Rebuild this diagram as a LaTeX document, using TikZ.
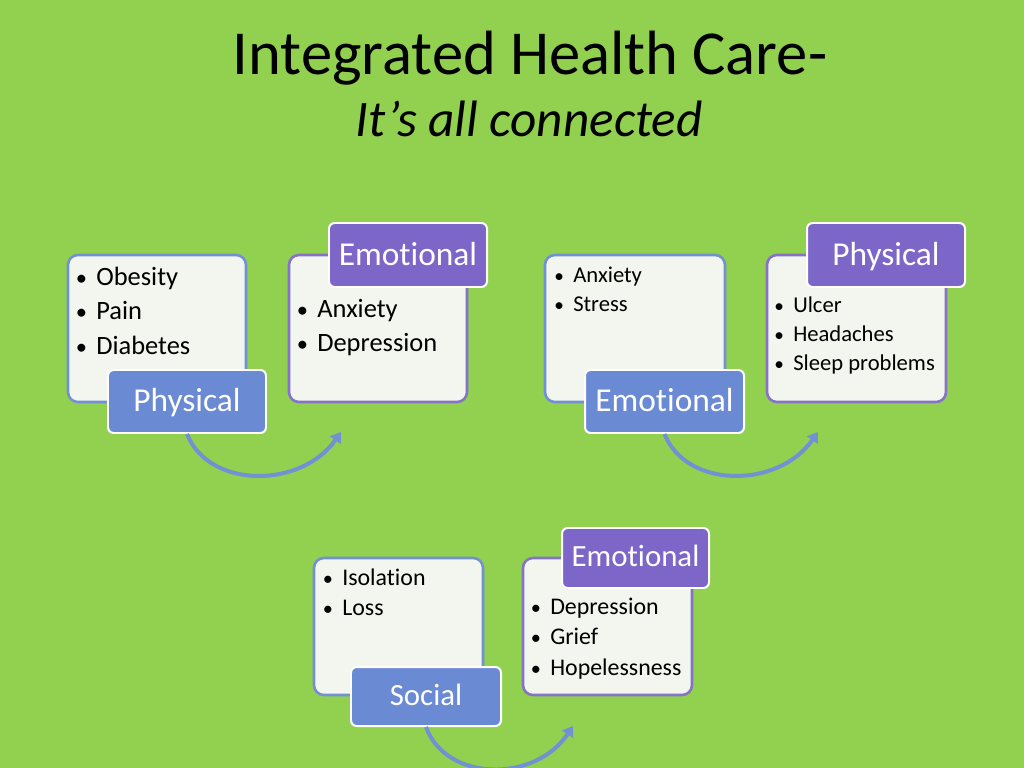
\documentclass[tikz,border=0pt]{standalone}
\usepackage{fontspec}
\setmainfont{Carlito}[Ligatures=NoCommon]
\usetikzlibrary{arrows.meta}
\definecolor{bggreen}{HTML}{92D050}
\definecolor{boxfill}{HTML}{F2F6EE}
\definecolor{lblblue}{HTML}{6A8AD4}
\definecolor{lblpurple}{HTML}{7C67C8}
\definecolor{edgeblue}{HTML}{7191D3}
\definecolor{edgepurple}{HTML}{8673C5}
\newcommand{\px}{0.703125bp}
\newcommand{\bul}{\llap{\scalebox{0.85}{•}\hspace{6.5bp}}}
\tikzset{>={Triangle[width=9bp,length=7bp]},
  panel/.style={draw, line width=1.8bp, fill=boxfill, rounded corners=7bp, inner sep=0},
  lbl/.style={draw=white, line width=1.4bp, rounded corners=4bp, text=white, inner sep=0},
  biglbl/.style={lbl, font=\fontsize{23.5bp}{28bp}\selectfont, text height=17bp, text depth=2.5bp},
  smalllbl/.style={lbl, font=\fontsize{21.7bp}{26bp}\selectfont, text height=15bp, text depth=3bp},
  item/.style={anchor=base west, inner sep=0},
  flow/.style={->, line width=2.8bp, edgeblue}}

\begin{document}
\begin{tikzpicture}[x=\px, y=-\px]
  \useasboundingbox (0,0) rectangle (1024,768);
  \fill[bggreen] (0,0) rectangle (1024,768);
  % title
  \node[anchor=base, font=\fontsize{44bp}{53bp}\selectfont] (title) at (530,75) {Integrated Health Care-};
  \node[anchor=base, font=\fontsize{36bp}{43bp}\selectfont\itshape] (subtitle) at (529,136) {It’s all connected};
  % 1
  \node[panel, draw=edgeblue, minimum width=178*\px, minimum height=147*\px] (physbox) at (157,328.5) {};
  \foreach \t [count=\i] in {Obesity,Pain,Diabetes}
    \node[item, font=\fontsize{18.6bp}{22bp}\selectfont] (physitem\i) at (96,250.5+34.5*\i) {\bul\t};
  \node[panel, draw=edgepurple, minimum width=178*\px, minimum height=147*\px] (emobox) at (378,328.5) {};
  \foreach \t [count=\i] in {Anxiety,Depression}
    \node[item, font=\fontsize{18.6bp}{22bp}\selectfont] (emoitem\i) at (317,282.5+34.5*\i) {\bul\t};
  \node[biglbl, fill=lblblue, minimum width=158*\px, minimum height=63*\px] (physlbl) at (187,401.5) {Physical};
  \node[biglbl, fill=lblpurple, minimum width=158*\px, minimum height=64*\px] (emolbl) at (408,255) {Emotional};
  \coordinate (end1) at (341,432);
  \draw[flow] (physlbl.south) .. controls +(22,55) and +(-40,57) .. (end1);
  % 2
  \node[panel, draw=edgeblue, minimum width=180*\px, minimum height=147*\px] (stressbox) at (635,328.5) {};
  \foreach \t [count=\i] in {Anxiety,Stress}
    \node[item, font=\fontsize{15.9bp}{19bp}\selectfont] (stressitem\i) at (573,254+28.5*\i) {\bul\t};
  \node[panel, draw=edgepurple, minimum width=179*\px, minimum height=147*\px] (bodybox) at (856.5,328.5) {};
  \foreach \t [count=\i] in {Ulcer,Headaches,Sleep problems}
    \node[item, font=\fontsize{15.9bp}{19bp}\selectfont] (bodyitem\i) at (793,283+29*\i) {\bul\t};
  \node[biglbl, fill=lblblue, minimum width=159*\px, minimum height=63*\px] (stresslbl) at (664.5,401.5) {Emotional};
  \node[biglbl, fill=lblpurple, minimum width=158*\px, minimum height=64*\px] (bodylbl) at (886,255) {Physical};
  \coordinate (end2) at (818,432);
  \draw[flow] (stresslbl.south) .. controls +(22,55) and +(-40,57) .. (end2);
  % 3
  \node[panel, draw=edgeblue, minimum width=169*\px, minimum height=137*\px] (socbox) at (398.5,626.5) {};
  \foreach \t [count=\i] in {Isolation,Loss}
    \node[item, font=\fontsize{16.8bp}{20bp}\selectfont] (socitem\i) at (342,555+30*\i) {\bul\t};
  \node[panel, draw=edgepurple, minimum width=169*\px, minimum height=137*\px] (griefbox) at (607.5,626.5) {};
  \foreach \t [count=\i] in {Depression,Grief,Hopelessness}
    \node[item, font=\fontsize{16.8bp}{20bp}\selectfont] (griefitem\i) at (550,583.5+30.5*\i) {\bul\t};
  \node[smalllbl, fill=lblblue, minimum width=150*\px, minimum height=59*\px] (soclbl) at (426,696.5) {Social};
  \node[smalllbl, fill=lblpurple, minimum width=147*\px, minimum height=60*\px] (grieflbl) at (635.5,558) {Emotional};
  \coordinate (end3) at (573,726);
  \draw[flow] (soclbl.south) .. controls +(20,55) and +(-38,57) .. (end3);
\end{tikzpicture}
\end{document}
